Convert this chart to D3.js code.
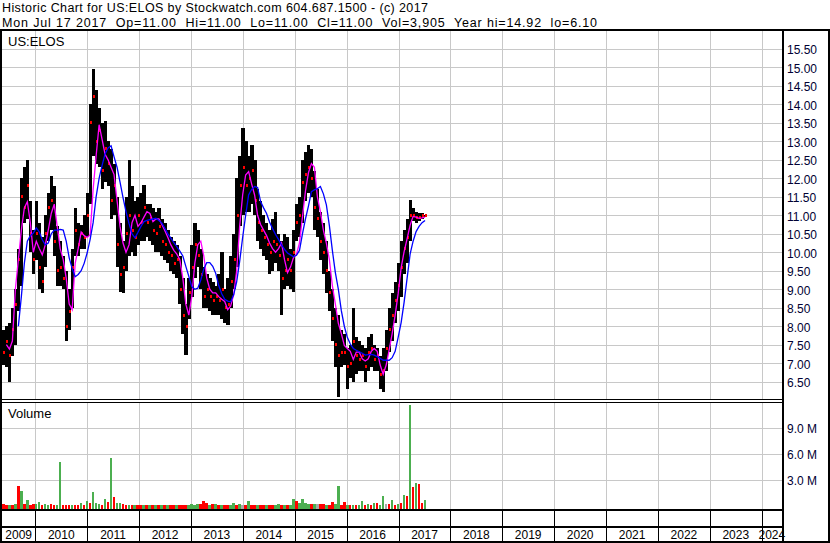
<!DOCTYPE html>
<html><head><meta charset="utf-8">
<script src="https://cdn.jsdelivr.net/npm/d3@7"></script>
<style>
html,body{margin:0;padding:0;background:#fff;}
svg{display:block;}
text{font-family:"Liberation Sans",Arial,sans-serif;}
</style>
</head><body>
<svg id="c" width="830" height="543"></svg>
<script>
// ---------------- DATA ----------------
const periodStart = "2009-05-11";
const periodEnd = "2017-07-17";
const high = [7.9,8.0,8.1,8.5,9.0,10.1,12.0,12.3,12.5,11.4,
10.6,11.4,10.8,10.4,11.0,11.6,12.05,11.8,10.7,10.3,
9.9,9.5,9.0,10.1,11.2,10.8,10.75,11.0,11.6,14.0,
14.96,14.4,13.9,13.5,13.55,13.0,12.8,12.4,11.5,10.8,
10.3,11.5,12.5,11.8,11.4,11.5,11.6,11.82,11.3,11.3,
11.2,11.1,11.2,10.9,10.8,10.6,10.4,10.3,10.2,9.9,
9.3,8.6,9.3,10.2,10.8,10.6,10.1,9.6,9.4,9.3,
9.2,9.1,9.4,10.0,9.0,9.3,9.9,10.5,12.0,12.6,
13.36,13.0,12.6,12.9,12.5,11.7,11.4,11.0,10.8,10.6,
10.9,11.1,10.5,10.3,10.5,10.4,10.1,10.6,11.3,11.5,
12.5,12.7,12.9,12.8,12.2,11.7,11.1,10.8,10.3,9.5,
9.0,8.5,8.3,7.9,7.8,7.4,7.5,8.48,7.7,7.6,
7.5,7.4,7.7,7.8,7.5,7.4,7.2,7.4,7.9,8.5,
8.9,9.2,9.7,10.3,10.6,10.9,11.42,11.2,11.1,11.05,
11.05,11.0];
const low = [6.95,6.9,6.5,7.2,7.5,8.4,9.1,10.8,10.9,10.0,
9.4,9.8,9.0,8.9,9.6,10.3,10.6,9.9,9.1,9.1,
9.0,7.6,7.9,8.5,9.9,9.9,10.1,10.1,10.4,11.3,
12.6,12.4,12.3,11.7,11.9,11.8,10.9,11.0,9.6,8.93,
8.9,9.5,9.9,10.0,9.9,10.2,10.3,10.3,10.4,10.3,
10.2,10.0,10.0,9.9,9.8,9.7,9.5,9.4,9.3,8.6,
7.8,7.22,8.2,8.8,9.3,9.6,9.0,8.5,8.5,8.4,
8.3,8.3,8.3,8.2,8.1,8.03,8.5,9.0,9.6,10.7,
11.0,11.1,11.1,11.3,11.0,10.3,10.1,9.9,9.8,9.4,
9.5,9.7,9.5,8.3,9.0,9.1,9.0,8.93,10.3,10.4,
10.8,11.4,11.6,11.5,10.6,10.4,9.8,9.4,8.9,8.4,
7.6,6.9,6.1,6.9,6.95,6.3,6.6,6.5,6.7,6.8,
6.8,6.5,6.8,6.9,6.8,6.8,6.3,6.23,6.8,7.3,
7.6,8.1,8.4,8.8,9.4,9.7,10.3,10.85,10.8,10.85,
10.9,10.95];
const close = [7.3,7.6,7.2,7.9,8.6,9.8,11.5,11.2,11.8,10.5,
9.8,10.5,9.6,9.2,10.5,11.2,11.4,10.3,9.5,9.6,
9.3,8.0,8.4,9.6,10.6,10.2,10.5,10.4,11.0,13.5,
14.2,13.0,13.3,12.2,12.8,12.4,11.4,11.8,10.2,9.4,
9.6,10.5,11.0,10.6,10.4,11.0,10.8,11.2,10.8,10.9,
10.6,10.5,10.7,10.3,10.2,10.0,9.9,9.7,9.8,9.0,
8.3,8.0,8.9,9.6,10.2,9.9,9.4,8.8,9.0,8.8,
8.7,8.8,8.7,9.0,8.5,8.6,9.2,9.8,11.0,11.8,
12.3,11.8,12.0,12.2,11.4,10.8,10.6,10.4,10.2,10.0,
10.3,10.2,9.9,9.3,9.5,9.8,9.5,10.0,10.8,11.0,
11.9,12.1,12.3,12.0,11.2,10.9,10.3,10.0,9.5,8.9,
8.2,7.5,7.2,7.3,7.3,6.9,7.0,7.6,7.2,7.1,
7.2,6.9,7.3,7.4,7.1,7.2,6.7,6.8,7.4,7.9,
8.3,8.7,9.1,9.6,10.1,10.4,11.0,11.0,10.95,10.95,
11.0,11.0];
const maShort = [null,7.5,7.38,7.6,9.0,9.8,10.6,11.2,11.37,10.8,
10.0,10.3,10.1,9.93,10.2,10.6,11.05,11.3,10.7,10.1,
9.8,9.3,8.6,8.45,9.7,10.1,10.55,10.45,10.4,10.47,
11.7,12.6,13.45,13.05,12.65,12.5,12.3,12.1,11.4,10.7,
10.25,10.0,10.2,10.8,11.0,10.7,10.8,10.95,11.1,11.05,
10.83,10.9,10.9,10.75,10.58,10.4,10.2,10.05,9.95,9.8,
9.3,8.6,8.3,8.8,9.7,10.2,10.3,9.9,9.3,9.0,
8.9,8.9,8.8,8.73,8.67,8.45,8.55,8.85,9.5,10.7,
11.55,12.09,12.18,11.85,11.55,11.0,10.75,10.6,10.45,10.25,
10.1,10.0,10.1,10.25,9.8,9.45,9.6,9.86,9.95,10.25,
10.95,11.65,12.15,12.4,12.3,11.5,11.1,10.6,10.25,9.8,
9.1,8.6,8.08,7.8,7.48,7.4,7.32,7.1,7.3,7.3,
7.12,7.06,7.12,7.32,7.4,7.32,6.95,6.7,6.95,7.36,
7.8,8.3,8.88,9.58,10.02,10.37,10.73,10.97,10.95,10.92,
10.93,10.95];
const maLong = [null,null,null,null,null,8.0,8.8,9.7,10.3,10.45,
10.52,10.66,10.55,10.34,10.2,10.25,10.5,10.6,10.6,10.62,
10.6,10.3,9.85,9.56,9.34,9.4,9.5,9.7,9.98,10.35,
10.8,11.5,12.0,12.35,12.66,12.82,12.88,12.58,12.3,11.9,
11.48,11.1,10.78,10.5,10.39,10.54,10.7,10.83,10.86,10.88,
10.9,10.92,10.86,10.79,10.65,10.5,10.38,10.26,10.15,10.03,
9.9,9.62,9.35,9.07,9.0,9.03,9.25,9.55,9.72,9.72,
9.62,9.43,9.1,8.88,8.73,8.68,8.66,8.85,9.2,9.75,
10.4,11.0,11.55,11.7,11.78,11.75,11.37,11.2,11.05,10.82,
10.64,10.48,10.35,10.2,10.08,9.98,9.93,9.88,9.92,10.05,
10.5,10.9,11.25,11.64,11.69,11.72,11.78,11.58,11.28,10.72,
10.05,9.45,9.0,8.42,8.0,7.7,7.52,7.4,7.35,7.31,
7.27,7.22,7.23,7.24,7.22,7.18,7.13,7.08,7.08,7.08,
7.15,7.32,7.7,8.1,8.65,9.3,9.95,10.3,10.56,10.7,
10.8,10.86];
// volume in millions of shares
const volume = [0.25,0.12,0.1,0.15,0.25,2.3,1.7,0.25,0.7,0.15,
0.2,0.2,0.46,0.15,0.22,0.12,0.25,0.15,0.12,5.1,
0.1,0.12,0.1,0.1,0.1,0.15,0.3,0.15,0.55,0.3,
1.6,0.4,0.2,0.15,0.8,0.5,5.57,1.07,0.35,0.3,
0.2,0.1,0.12,0.08,0.1,0.1,0.12,0.08,0.1,0.06,
0.08,0.12,0.06,0.1,0.08,0.1,0.08,0.12,0.1,0.06,
0.1,0.1,0.15,0.25,0.15,0.2,0.2,0.55,0.3,0.15,
0.2,0.22,0.1,0.1,0.08,0.12,0.1,0.4,0.12,0.25,
0.1,0.12,0.6,0.12,0.1,0.08,0.1,0.06,0.1,0.06,
0.08,0.1,0.25,0.08,0.1,0.12,0.15,0.8,0.55,0.4,
0.8,0.3,0.25,0.2,0.22,0.2,0.2,0.25,0.15,0.15,
0.45,0.2,2.35,0.15,0.42,0.1,0.08,0.1,0.12,0.1,
0.6,0.12,0.25,0.12,0.4,0.4,0.15,1.1,0.22,0.25,
0.7,0.12,0.25,0.3,1.27,1.1,11.65,2.2,2.6,2.55,
0.35,0.7];
// g = up, r = down, n = unchanged
const volDir = ("rrgrgrgrgr"+"rggrggrrgg"+"rrrgrrgrgr"+"gggrgrgrgg"+"rrgrgrrgrg"+
  "rgrgrgrrgr"+"rrggggrrrg"+"rgrgrrggrg"+"nrgrrgrrgr"+"rggrgrggrg"+
  "gggrgnrrgr"+"rggrrgrgrg"+"grgrgrggnr"+"grgrgrgrgr"+"rg").split("");
const priceTicks = [6.5,7,7.5,8,8.5,9,9.5,10,10.5,11,11.5,12,12.5,13,13.5,14,14.5,15,15.5];
const volTicks = [3,6,9];
const volTickLabels = ["3.0 M","6.0 M","9.0 M"];
const years = [2009,2010,2011,2012,2013,2014,2015,2016,2017,2018,2019,2020,2021,2022,2023,2024];
const header1 = "Historic Chart for US:ELOS by Stockwatch.com 604.687.1500 - (c) 2017";
const header2 = "Mon Jul 17 2017  Op=11.00  Hi=11.00  Lo=11.00  Cl=11.00  Vol=3,905  Year hi=14.92  lo=6.10";
const symbolLabel = "US:ELOS";
const volumeLabel = "Volume";

// ---------------- CHART ----------------
const W = 830, H = 543;
const plotL = 2, plotR = 782;
const priceTop = 31, priceBot = 399, volTop = 402, volBot = 509;
const colors = {g: "#4caf50", r: "#ff0000", n: "#a8a8a8"};
const svg = d3.select("#c");
const parse = d3.timeParse("%Y-%m-%d");
const x = d3.scaleTime().domain([new Date(2010,0,1), new Date(2024,0,1)]).range([35.3, 761.7]);
const yP = d3.scaleLinear().domain([6,16]).range([400.2, 30.4]);
const yV = d3.scaleLinear().domain([0,12]).range([506, 402]);

svg.append("rect").attr("width",W).attr("height",H).attr("fill","#fff");

const t0 = parse(periodStart), t1 = parse(periodEnd);
const n = high.length;
const tAt = i => new Date(+t0 + (t1 - t0) * i / n);
const bars = d3.range(n).map(i => ({
  x0: x(tAt(i)), x1: x(tAt(i+1)), hi: high[i], lo: low[i], cl: close[i],
  ms: maShort[i], ml: maLong[i], v: volume[i], d: volDir[i]
}));

// grid
const grid = svg.append("g").attr("stroke","#c8c8c8").attr("stroke-width",1).attr("shape-rendering","crispEdges");
priceTicks.forEach(p => {
  const yy = Math.round(yP(p)) + 0.5;
  grid.append("line").attr("x1",plotL).attr("x2",plotR).attr("y1",yy).attr("y2",yy);
});
volTicks.forEach(v => {
  const yy = Math.round(yV(v)) + 0.5;
  grid.append("line").attr("x1",plotL).attr("x2",plotR).attr("y1",yy).attr("y2",yy);
});
const yearBounds = years.slice(1).map(yr => x(new Date(yr,0,1)));
yearBounds.forEach(xx => {
  const xv = Math.round(xx) + 0.5;
  grid.append("line").attr("x1",xv).attr("x2",xv).attr("y1",priceTop).attr("y2",priceBot);
  grid.append("line").attr("x1",xv).attr("x2",xv).attr("y1",volTop).attr("y2",volBot);
});

// price bars (high-low range per period)
svg.append("g").attr("shape-rendering","crispEdges").selectAll("rect").data(bars).join("rect")
  .attr("x", d => d.x0).attr("width", d => d.x1 - d.x0 + 0.4)
  .attr("y", d => yP(d.hi)).attr("height", d => yP(d.lo) - yP(d.hi))
  .attr("fill", "#000");
// close marks
svg.append("g").attr("shape-rendering","crispEdges").selectAll("rect").data(bars).join("rect")
  .attr("x", d => d.x1 - 1.5).attr("width", 2)
  .attr("y", d => yP(d.cl) - 1.5).attr("height", 3)
  .attr("fill", "#ff0000");

// moving averages
const cx = d => (d.x0 + d.x1) / 2;
svg.append("path").datum(bars)
  .attr("d", d3.line().defined(d => d.ms != null).x(cx).y(d => yP(d.ms)))
  .attr("fill","none").attr("stroke","#ff00ff").attr("stroke-width",1.3);
svg.append("path").datum(bars)
  .attr("d", d3.line().defined(d => d.ml != null).x(cx).y(d => yP(d.ml)))
  .attr("fill","none").attr("stroke","#0000ff").attr("stroke-width",1.3);

// volume bars
svg.append("g").attr("shape-rendering","crispEdges").selectAll("rect").data(bars).join("rect")
  .attr("x", d => d.x0).attr("width", d => d.x1 - d.x0 - 0.3)
  .attr("y", d => yV(d.v)).attr("height", d => volBot - yV(d.v))
  .attr("fill", d => colors[d.d]);

// frame lines
const frame = svg.append("g").attr("fill","#000").attr("shape-rendering","crispEdges");
frame.append("rect").attr("x",0).attr("y",29).attr("width",W).attr("height",2);
frame.append("rect").attr("x",0).attr("y",29).attr("width",2).attr("height",H-29);
frame.append("rect").attr("x",plotR).attr("y",29).attr("width",2).attr("height",H-29);
frame.append("rect").attr("x",W-2).attr("y",29).attr("width",2).attr("height",H-29);
frame.append("rect").attr("x",0).attr("y",399).attr("width",plotR).attr("height",1);
frame.append("rect").attr("x",0).attr("y",402).attr("width",plotR).attr("height",1);
frame.append("rect").attr("x",0).attr("y",volBot).attr("width",plotR+2).attr("height",2);
frame.append("rect").attr("x",0).attr("y",526).attr("width",plotR+2).attr("height",2);
frame.append("rect").attr("x",0).attr("y",541).attr("width",W).attr("height",2);
yearBounds.forEach(xx => {
  frame.append("rect").attr("x",Math.round(xx)).attr("y",511).attr("width",1).attr("height",30);
});

// text
const txt = svg.append("g").attr("fill","#000");
txt.append("text").attr("x",2).attr("y",12.3).attr("font-size",12.5)
  .attr("xml:space","preserve").attr("textLength",426).attr("lengthAdjust","spacing").text(header1);
txt.append("text").attr("x",2).attr("y",26.6).attr("font-size",12.5)
  .attr("xml:space","preserve").attr("textLength",595).attr("lengthAdjust","spacing").text(header2);
txt.append("text").attr("x",8).attr("y",46).attr("font-size",13).text(symbolLabel);
txt.append("text").attr("x",8).attr("y",418).attr("font-size",13).text(volumeLabel);

const axisTxt = svg.append("g").attr("fill","#000033");
priceTicks.forEach(p => {
  axisTxt.append("text").attr("x",787).attr("y",yP(p)+5.5).attr("font-size",12).text(p.toFixed(2));
});
volTicks.forEach((v,i) => {
  axisTxt.append("text").attr("x",787).attr("y",yV(v)+4.5).attr("font-size",12).text(volTickLabels[i]);
});
years.forEach(yr => {
  const a = Math.max(plotL, x(new Date(yr,0,1)));
  const b = Math.min(plotR, x(new Date(yr+1,0,1)));
  axisTxt.append("text").attr("x",(a+b)/2).attr("y",539).attr("font-size",12)
    .attr("text-anchor","middle").attr("fill","#000").text(String(yr));
});
</script>
</body></html>
